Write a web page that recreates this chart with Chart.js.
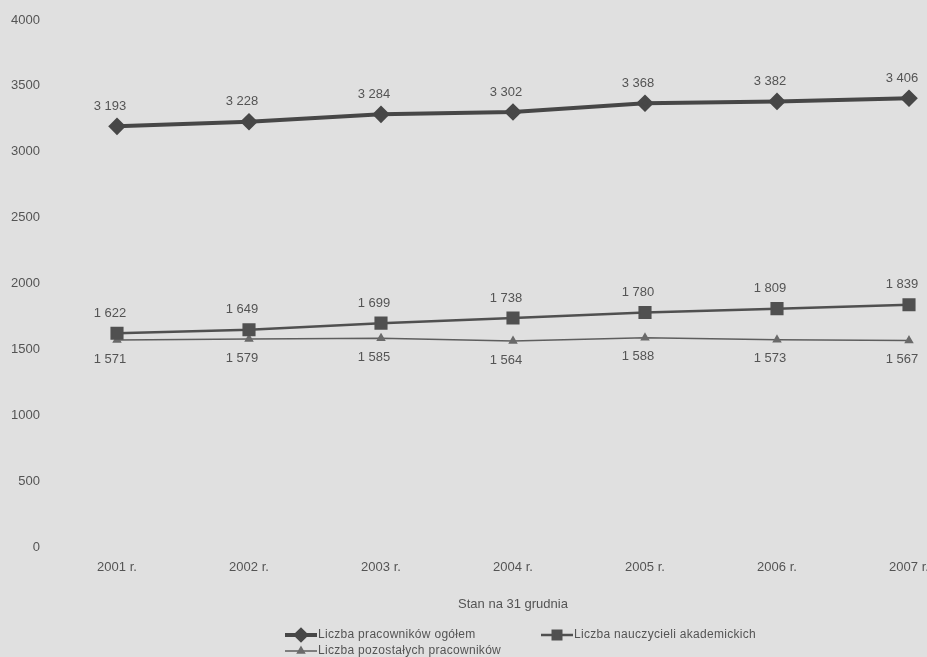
<!DOCTYPE html>
<html>
<head>
<meta charset="utf-8">
<script src="https://cdn.jsdelivr.net/npm/chart.js@4/dist/chart.umd.min.js"></script>
<style>
  html, body { margin: 0; padding: 0; background: #e0e0e0; }
  #wrap { width: 927px; height: 657px; position: relative; }
</style>
</head>
<body>
<div id="wrap"><canvas id="c" width="927" height="657"></canvas></div>
<script>
const categories = ['2001 r.', '2002 r.', '2003 r.', '2004 r.', '2005 r.', '2006 r.', '2007 r.'];
const ogolem = [3193, 3228, 3284, 3302, 3368, 3382, 3406];
const nauczyciele = [1622, 1649, 1699, 1738, 1780, 1809, 1839];
const pozostali = [1571, 1579, 1585, 1564, 1588, 1573, 1567];
const seriesNames = ['Liczba pracowników ogółem', 'Liczba nauczycieli akademickich', 'Liczba pozostałych pracowników'];
const yTicks = [0, 500, 1000, 1500, 2000, 2500, 3000, 3500, 4000];
const xTitle = 'Stan na 31 grudnia';

const FONT = "'Liberation Sans', Arial, sans-serif";
const TEXT = '#545454';

function fmt(v) { return String(v).replace(/\B(?=(\d{3})+(?!\d))/g, ' '); }

const labelPlugin = {
  id: 'valueLabels',
  afterDatasetsDraw(chart) {
    const ctx = chart.ctx;
    ctx.save();
    ctx.font = '13px ' + FONT;
    ctx.fillStyle = TEXT;
    ctx.textAlign = 'center';
    ctx.textBaseline = 'middle';
    chart.data.datasets.forEach((ds, i) => {
      const meta = chart.getDatasetMeta(i);
      meta.data.forEach((pt, j) => {
        const dy = ds.labelPos === 'below' ? 19 : -20;
        ctx.fillText(fmt(ds.data[j]), pt.x - 7, pt.y + dy);
      });
    });
    ctx.restore();
  }
};

const legendPlugin = {
  id: 'customLegend',
  afterDraw(chart) {
    const ctx = chart.ctx;
    const items = [
      { ds: 0, x: 285, y: 635 },
      { ds: 1, x: 541, y: 635 },
      { ds: 2, x: 285, y: 651 }
    ];
    ctx.save();
    items.forEach(it => {
      const ds = chart.data.datasets[it.ds];
      ctx.strokeStyle = ds.borderColor;
      ctx.lineWidth = ds.borderWidth;
      ctx.beginPath();
      ctx.moveTo(it.x, it.y);
      ctx.lineTo(it.x + 32, it.y);
      ctx.stroke();
      ctx.fillStyle = ds.pointBackgroundColor;
      ctx.strokeStyle = ds.pointBorderColor;
      Chart.helpers.drawPoint(ctx, {
        pointStyle: ds.pointStyle,
        radius: ds.legendRadius,
        borderWidth: 1
      }, it.x + 16, it.y);
      ctx.fillStyle = TEXT;
      ctx.font = '12px ' + FONT;
      if ('letterSpacing' in ctx) ctx.letterSpacing = '0.3px';
      ctx.textAlign = 'left';
      ctx.textBaseline = 'middle';
      ctx.fillText(seriesNames[it.ds], it.x + 33, it.y);
      if ('letterSpacing' in ctx) ctx.letterSpacing = '0px';
    });
    ctx.restore();
  }
};

new Chart(document.getElementById('c'), {
  type: 'line',
  data: {
    labels: categories,
    datasets: [
      {
        label: seriesNames[0], data: ogolem,
        borderColor: '#474747', borderWidth: 4,
        pointStyle: 'rectRot', pointRadius: 6, legendRadius: 5,
        pointBackgroundColor: '#474747', pointBorderColor: '#474747',
        labelPos: 'above', tension: 0
      },
      {
        label: seriesNames[1], data: nauczyciele,
        borderColor: '#505050', borderWidth: 2.5,
        pointStyle: 'rect', pointRadius: 7.5, legendRadius: 6,
        pointBackgroundColor: '#505050', pointBorderColor: '#505050',
        labelPos: 'above', tension: 0
      },
      {
        label: seriesNames[2], data: pozostali,
        borderColor: '#5e5e5e', borderWidth: 1.5,
        pointStyle: 'triangle', pointRadius: 4, legendRadius: 4,
        pointBackgroundColor: '#6a6a6a', pointBorderColor: '#6a6a6a',
        labelPos: 'below', tension: 0
      }
    ]
  },
  options: {
    responsive: false,
    animation: false,
    devicePixelRatio: 1,
    layout: { padding: { left: 0, right: 18, top: 20, bottom: 0 } },
    plugins: { legend: { display: false }, tooltip: { enabled: false } },
    scales: {
      x: {
        offset: false,
        grid: { display: false, drawTicks: false },
        border: { display: false },
        ticks: { color: TEXT, font: { family: FONT, size: 13 }, padding: 13, maxRotation: 0, autoSkip: false },
        title: { display: true, text: xTitle, color: TEXT, font: { family: FONT, size: 13 }, padding: { top: 0, bottom: 45 } },
        afterFit(scale) { scale.height = 110; scale.paddingLeft = 0; scale.paddingRight = 0; }
      },
      y: {
        min: 0, max: 4000,
        afterBuildTicks(scale) { scale.ticks = yTicks.map(v => ({ value: v })); },
        grid: { display: false, drawTicks: false },
        border: { display: false },
        ticks: { color: TEXT, font: { family: FONT, size: 13 }, padding: 77, callback: v => String(v) },
        afterFit(scale) { scale.width = 117; scale.paddingTop = 0; scale.paddingBottom = 0; }
      }
    }
  },
  plugins: [labelPlugin, legendPlugin]
});
</script>
</body>
</html>
